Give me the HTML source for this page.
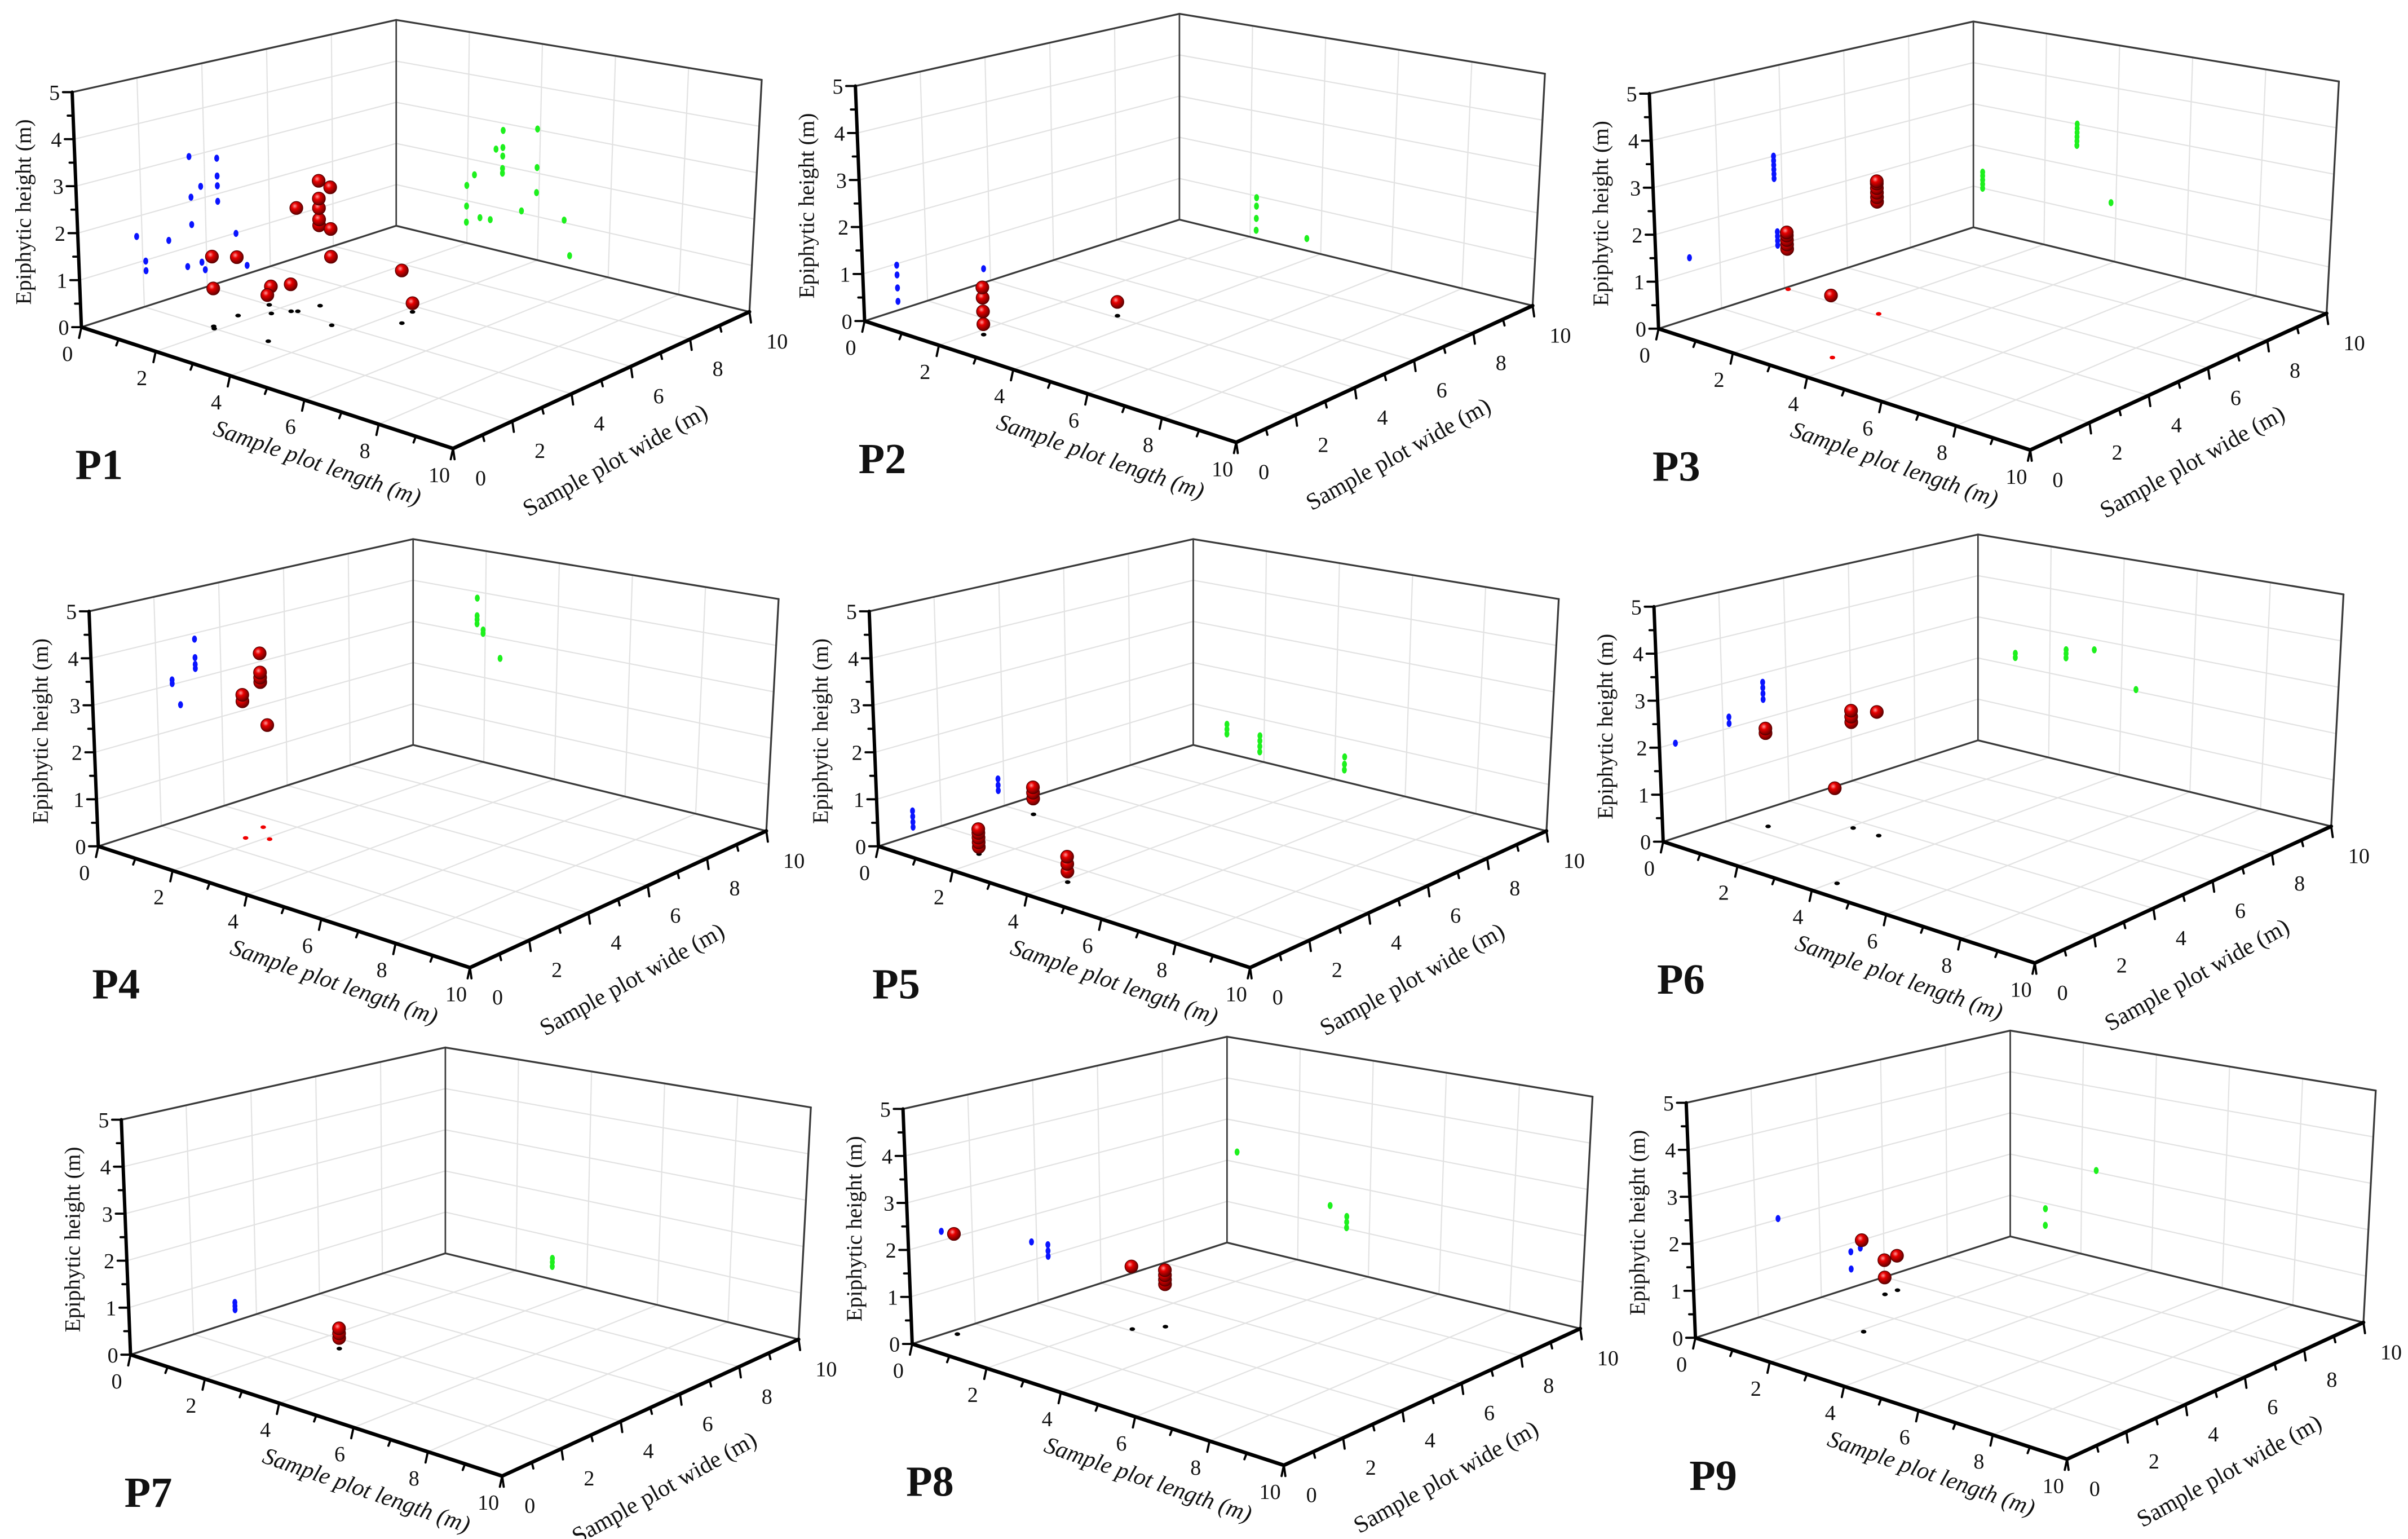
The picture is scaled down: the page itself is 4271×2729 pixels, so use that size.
<!DOCTYPE html>
<html><head><meta charset="utf-8"><style>
html,body{margin:0;padding:0;background:#fff;}
svg{display:block;}
</style></head><body>
<svg id="fig" xmlns="http://www.w3.org/2000/svg" width="4271" height="2729" viewBox="0 0 1568 1002" preserveAspectRatio="none" font-family="'Liberation Serif', serif">
<defs>
<radialGradient id="sph" cx="38%" cy="35%" r="65%">
<stop offset="0" stop-color="#ff9a9a"/><stop offset="0.35" stop-color="#e80000"/><stop offset="1" stop-color="#6a0000"/>
</radialGradient>
</defs>
<rect x="0" y="0" width="1568" height="1002" fill="#fff"/>
</svg>
<script>
// ---- data: blue = projection on length=0 wall [wide, height]; green = projection on wide=10 wall [length, height]
// floor = projection on floor [length, wide]; red = points [length, wide, height]
const panelNames = ["P1","P2","P3","P4","P5","P6","P7","P8","P9"];
const zTicks = [0,1,2,3,4,5];
const lenTicks = [0,2,4,6,8,10];
const wideTicks = [0,2,4,6,8,10];

const p1Blue = [[1.83,1.57],[2.09,0.98],[2.09,0.77],[2.83,1.28],[3.4,0.58],[3.53,3.0],[3.56,2.09],[3.56,1.48],[3.87,2.27],[3.85,0.58],[3.95,0.39],[4.39,2.8],[4.39,2.4],[4.39,2.18],[4.39,1.83],[4.94,0.99],[5.27,0.19]];
const p1Green = [[1.98,1.36],[1.98,0.87],[1.98,0.49],[2.19,1.65],[2.36,0.67],[2.65,0.68],[2.78,2.36],[2.97,2.83],[2.97,2.43],[2.97,2.23],[2.97,1.94],[2.97,1.83],[3.52,1.05],[3.92,3.02],[3.93,2.13],[3.93,1.55],[4.72,1.06],[4.9,0.28]];
const p1Floor = [[1.8,2.1],[1.9,2.0],[1.7,3.0],[1.7,4.0],[2.1,3.6],[3.2,2.2],[2.3,4.0],[2.4,4.1],[2.5,4.7],[3.5,3.9],[4.5,5.0],[4.2,5.7]];
const p1Red = [[1.8,2.1,1.5],[1.9,2.0,0.86],[1.7,3.0,1.27],[2.1,3.6,0.59],[3.2,2.2,0.98],[2.3,4.0,0.59],[2.4,4.1,2.26],[2.5,4.7,2.75],[2.5,4.7,2.36],[2.5,4.7,2.15],[2.5,4.7,1.9],[2.5,4.7,1.77],[3.5,3.9,2.98],[3.5,3.9,2.08],[3.5,3.9,1.48],[4.5,5.0,1.14],[4.2,5.7,0.19]];

const p2Blue = [[1.07,0.97],[1.07,0.76],[1.07,0.48],[1.07,0.19],[3.79,0.31]];
const p2Green = [[2.17,0.96],[2.17,0.76],[2.17,0.47],[2.17,0.19],[3.6,0.28]];
const p2Floor = [[2.2,1.2],[3.4,4.1]];
const p2Red = [[2.2,1.2,1.0],[2.2,1.2,0.78],[2.2,1.2,0.49],[2.2,1.2,0.22],[3.4,4.1,0.3]];

const p3Blue = [[1.05,1.3],[3.76,2.5],[3.76,2.6],[3.76,2.7],[3.76,2.8],[3.76,2.9],[3.76,3.0],[3.82,1.0],[3.82,1.1],[3.82,1.2],[3.82,1.3]];
const p3Green = [[2.88,2.5],[2.88,2.6],[2.88,2.7],[2.88,2.8],[2.88,2.9],[2.88,3.0],[0.26,1.0],[0.26,1.1],[0.26,1.2],[0.26,1.3],[0.26,1.39],[3.86,1.34]];
const p3Floor = [[0.1,4.0],[2.5,4.1],[3.6,1.3]];
const p3Red = [[0.1,4.0,0.9],[0.1,4.0,1.0],[0.1,4.0,1.1],[0.1,4.0,1.2],[0.1,4.0,1.27],[2.5,4.1,2.45],[2.5,4.1,2.55],[2.5,4.1,2.65],[2.5,4.1,2.75],[2.5,4.1,2.85],[2.5,4.1,2.9],[3.6,1.3,1.3]];

const p4Blue = [[2.48,3.1],[2.48,3.02],[2.72,2.51],[3.21,3.87],[3.21,3.46],[3.21,3.31],[3.21,3.22]];
const p4Green = [[1.77,3.85],[1.77,3.43],[1.77,3.34],[1.77,3.24],[1.94,3.12],[1.94,3.04],[2.42,2.53]];
const p4Floor = [[1.7,2.7],[1.5,3.5],[2.1,3.0]];
const p4Red = [[1.7,2.7,3.1],[1.7,2.7,2.96],[1.5,3.5,3.81],[1.5,3.5,3.39],[1.5,3.5,3.28],[1.5,3.5,3.18],[2.1,3.0,2.47]];

const p5Blue = [[1.11,0.17],[1.11,0.28],[1.11,0.4],[1.11,0.52],[3.82,0.38],[3.82,0.5],[3.82,0.64]];
const p5Green = [[0.95,0.46],[0.95,0.57],[0.95,0.69],[1.88,0.22],[1.88,0.35],[1.88,0.48],[1.88,0.6],[4.27,0.27],[4.27,0.4],[4.27,0.57]];
const p5Floor = [[1.7,1.2],[0.8,4.0],[4.1,1.2]];
const p5Red = [[1.7,1.2,0.15],[1.7,1.2,0.25],[1.7,1.2,0.35],[1.7,1.2,0.45],[1.7,1.2,0.53],[0.8,4.0,0.35],[0.8,4.0,0.48],[0.8,4.0,0.6],[4.1,1.2,0.22],[4.1,1.2,0.38],[4.1,1.2,0.53]];

const p6Blue = [[0.5,2.0],[2.19,2.1],[2.19,2.24],[3.27,2.42],[3.27,2.55],[3.27,2.68],[3.27,2.8]];
const p6Green = [[1.04,2.2],[1.04,2.3],[2.45,2.44],[2.45,2.54],[2.45,2.63],[3.23,2.76],[4.41,2.04]];
const p6Floor = [[0.8,2.4],[2.1,3.6],[2.8,3.6],[4.1,0.7]];
const p6Red = [[0.8,2.4,2.03],[0.8,2.4,2.13],[2.1,3.6,2.31],[2.1,3.6,2.43],[2.1,3.6,2.56],[2.8,3.6,2.68],[4.1,0.7,1.97]];

const p7Blue = [[3.33,0.25],[3.33,0.33],[3.33,0.41]];
const p7Green = [[3.02,0.3],[3.02,0.4],[3.02,0.49]];
const p7Floor = [[2.7,3.5]];
const p7Red = [[2.7,3.5,0.23],[2.7,3.5,0.33],[2.7,3.5,0.44]];

const p8Blue = [[1.04,2.2],[3.84,1.41],[4.35,0.98],[4.35,1.1],[4.35,1.24]];
const p8Green = [[0.28,2.25],[2.89,1.45],[3.36,1.02],[3.36,1.15],[3.36,1.28]];
const p8Floor = [[0.2,1.2],[2.5,4.1],[2.9,4.7]];
const p8Red = [[0.2,1.2,2.16],[2.5,4.1,1.37],[2.9,4.7,0.93],[2.9,4.7,1.03],[2.9,4.7,1.13],[2.9,4.7,1.24]];

const p9Blue = [[2.71,2.02],[4.96,0.81],[5.26,0.83],[4.96,0.42]];
const p9Green = [[0.99,0.87],[0.99,0.47],[2.4,2.04]];
const p9Floor = [[0.8,5.1],[0.8,5.5],[2.1,2.9]];
const p9Red = [[2.1,2.9,1.98],[0.8,5.1,0.77],[0.8,5.5,0.78],[0.8,5.1,0.38]];

const blueSets = [p1Blue,p2Blue,p3Blue,p4Blue,p5Blue,p6Blue,p7Blue,p8Blue,p9Blue];
const greenSets = [p1Green,p2Green,p3Green,p4Green,p5Green,p6Green,p7Green,p8Green,p9Green];
const floorSets = [p1Floor,p2Floor,p3Floor,p4Floor,p5Floor,p6Floor,p7Floor,p8Floor,p9Floor];
const redSets = [p1Red,p2Red,p3Red,p4Red,p5Red,p6Red,p7Red,p8Red,p9Red];

// ---- layout (not data)
const origins = [[53,213],[563,209],[1080,214],[64,551],[572,551],[1083,548],[85,882],[594,875],[1104,871]];
const floorColors = ["#000","#000","#f00000","#f00000","#000","#000","#000","#000","#000"];
const FL = {O:[0,0], L:[242,79], W:[435,-10], B:[205,-66]};
const TP = {O:[-6,-153], L:[240,-87], W:[443,-161], B:[205,-200]};
const NS = "http://www.w3.org/2000/svg";
const FONT = "'Liberation Serif', serif";
const svg = document.getElementById("fig");

function bil(C,a,b,i){ return C.O[i]*(1-a)*(1-b)+C.L[i]*a*(1-b)+C.W[i]*a*b+C.B[i]*(1-a)*b; }
function proj(o,l,w,z){
  const a=l/10,b=w/10,t=z/5;
  const fx=bil(FL,a,b,0), fy=bil(FL,a,b,1), tx=bil(TP,a,b,0), ty=bil(TP,a,b,1);
  return [o[0]+fx+(tx-fx)*t, o[1]+fy+(ty-fy)*t];
}
function el(tag, attrs, parent){
  const e=document.createElementNS(NS,tag);
  for(const k in attrs) e.setAttribute(k,attrs[k]);
  parent.appendChild(e); return e;
}
function line(g,p,q,stroke,sw){ return el("line",{x1:p[0],y1:p[1],x2:q[0],y2:q[1],stroke:stroke,"stroke-width":sw,"stroke-linecap":"round"},g); }
function txt(g,x,y,s,size,extra){
  const t=el("text",Object.assign({x:x,y:y,"font-size":size,"font-family":FONT,fill:"#111"},extra||{}),g);
  t.textContent=s; return t;
}

panelNames.forEach((name,pi)=>{
  const o=origins[pi];
  const P=(l,w,z)=>proj(o,l,w,z);
  const g=el("g",{},svg);
  
  

  const grid=el("g",{},g);
  
  
  const gc="#e2e2e2";
  for(let v=2; v<10; v+=2){
    line(grid,P(v,0,0),P(v,10,0),gc,0.8);
    line(grid,P(0,v,0),P(10,v,0),gc,0.8);
    line(grid,P(0,v,0),P(0,v,5),gc,0.8);
    line(grid,P(v,10,0),P(v,10,5),gc,0.8);
  }
  for(let z=1; z<5; z++){
    line(grid,P(0,0,z),P(0,10,z),gc,0.8);
    line(grid,P(0,10,z),P(10,10,z),gc,0.8);
  }
  const fr=el("g",{},g);
  
  
  const fc="#3a3a3a";
  line(fr,P(0,0,0),P(0,10,0),fc,1.2);
  line(fr,P(0,10,0),P(10,10,0),fc,1.2);
  line(fr,P(0,10,0),P(0,10,5),fc,1.0);
  line(fr,P(0,0,5),P(0,10,5),fc,1.2);
  line(fr,P(0,10,5),P(10,10,5),fc,1.2);
  line(fr,P(10,10,5),P(10,10,0),fc,1.2);

  const za=line(g,P(0,0,0),P(0,0,5),"#000",2.2);
  
  
  const la=line(g,P(0,0,0),P(10,0,0),"#000",2.4);
  
  
  const wa=line(g,P(10,0,0),P(10,10,0),"#000",2.4);
  
  

  for(let z=0; z<=5.001; z+=0.5){
    const p=P(0,0,z); const major=Math.abs(z-Math.round(z))<0.01;
    line(g,p,[p[0]-(major?6:3.5),p[1]],"#000",1.4);
  }
  zTicks.forEach(z=>{
    const p=P(0,0,z);
    const t=txt(g,p[0]-8,p[1]+5,String(z),14,{"text-anchor":"end"});
    
    
  });
  for(let v=0; v<=10; v++){
    const p=P(v,0,0); const major=v%2===0;
    line(g,p,[p[0]-1.5,p[1]+(major?7:4)],"#000",1.4);
  }
  lenTicks.forEach(v=>{
    const p=P(v,0,0);
    const t=txt(g,p[0]-9,p[1]+22,String(v),14,{"text-anchor":"middle"});
    
    
  });
  for(let v=0; v<=10; v++){
    const p=P(10,v,0); const major=v%2===0;
    line(g,p,[p[0]+1,p[1]+(major?7:4)],"#000",1.4);
  }
  wideTicks.forEach(v=>{
    const p=P(10,v,0);
    const t=txt(g,p[0]+18,p[1]+24,String(v),14,{"text-anchor":"middle"});
    
    
  });
  const zt=txt(g,0,0,"Epiphytic height (m)",14.5,{"text-anchor":"middle",transform:`translate(${o[0]-33},${o[1]-75}) rotate(-90)`});
  
  
  const lt=txt(g,0,0,"Sample plot length (m)",15.5,{"text-anchor":"middle","font-style":"italic",transform:`translate(${o[0]+152},${o[1]+93}) rotate(19)`});
  
  
  const wt=txt(g,0,0,"Sample plot wide (m)",15.5,{"text-anchor":"middle",transform:`translate(${o[0]+350},${o[1]+91}) rotate(-29)`});
  
  
  const pl=txt(g,o[0]-4,o[1]+99,name,28,{"font-weight":"bold"});
  
  

  floorSets[pi].forEach(d=>{
    const p=P(d[0],d[1],0);
    const m=el("ellipse",{cx:p[0],cy:p[1],rx:1.8,ry:1.2,fill:floorColors[pi]},g);
    
    
  });
  blueSets[pi].forEach(d=>{
    const p=P(0,d[0],d[1]);
    const m=el("ellipse",{cx:p[0],cy:p[1],rx:1.6,ry:2.3,fill:"#0a14ff"},g);
    
    
  });
  greenSets[pi].forEach(d=>{
    const p=P(d[0],10,d[1]);
    const m=el("ellipse",{cx:p[0],cy:p[1],rx:1.6,ry:2.3,fill:"#1ef01e"},g);
    
    
  });
  redSets[pi].slice().sort((a,b)=>a[2]-b[2]).forEach(d=>{
    const p=P(d[0],d[1],d[2]);
    const m=el("circle",{cx:p[0],cy:p[1],r:4.2,fill:"url(#sph)",stroke:"#5a0000","stroke-width":0.5},g);
    
    
  });
});
</script>
</body></html>
